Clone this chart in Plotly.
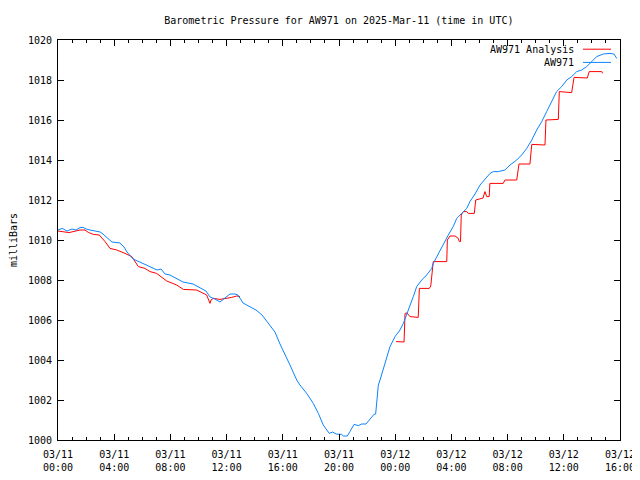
import pandas as pd
import numpy as np
import plotly.graph_objects as go

BASE = pd.Timestamp("2025-03-11 00:00")

# AW971 station data: hours since 2025-03-11 00:00 UTC, pressure (mb)
aw_hours = [0.0, 0.3, 0.64, 1.0, 1.28, 1.57, 1.78, 2.0, 2.28, 2.63, 3.0, 3.2, 3.56, 3.84,
            4.41, 4.7, 4.91, 5.34, 5.98, 6.55, 7.05, 7.33, 7.62, 7.97, 8.47, 8.9, 9.61,
            9.9, 10.25, 10.53, 10.82, 11.17, 11.53, 11.89, 12.24, 12.6, 12.81, 13.17,
            13.67, 14.09, 14.52, 14.8, 15.09, 15.44, 15.8, 16.16, 16.51, 16.99, 17.22,
            17.7, 18.17, 18.53, 18.88, 19.31, 19.55, 19.79, 20.19, 20.31, 20.59, 20.78,
            21.07, 21.37, 21.62, 21.92, 22.26, 22.49, 22.61, 22.68, 22.8, 22.92, 23.13,
            23.4, 23.63, 23.99, 24.34, 24.58, 24.82, 25.05, 25.29, 25.53, 25.89, 26.24,
            26.6, 26.71, 27.07, 27.42, 27.78, 28.13, 28.38, 28.73, 29.09, 29.32, 29.68,
            30.04, 30.51, 30.75, 30.98, 31.34, 31.81, 32.17, 32.65, 33.0, 33.36, 33.72,
            34.07, 34.43, 34.78, 35.14, 35.49, 35.85, 36.21, 36.56, 36.92, 37.27, 37.63,
            37.99, 38.34, 38.81, 39.29, 39.57, 39.77]
aw_mb = [1010.5, 1010.58, 1010.45, 1010.55, 1010.5, 1010.62, 1010.63, 1010.55, 1010.5,
         1010.45, 1010.4, 1010.3, 1010.1, 1009.9, 1009.85, 1009.65, 1009.4, 1009.05,
         1008.85, 1008.65, 1008.5, 1008.55, 1008.3, 1008.25, 1008.05, 1007.9, 1007.8,
         1007.7, 1007.55, 1007.45, 1007.15, 1007.05, 1006.9, 1007.1, 1007.3, 1007.3,
         1007.25, 1006.85, 1006.67, 1006.5, 1006.25, 1006.0, 1005.75, 1005.4, 1004.8,
         1004.3, 1003.75, 1003.0, 1002.75, 1002.33, 1001.83, 1001.33, 1000.75, 1000.33,
         1000.4, 1000.3, 1000.28, 1000.2, 1000.2, 1000.42, 1000.78, 1000.72, 1000.8,
         1000.8, 1001.08, 1001.28, 1001.3, 1002.0, 1002.75, 1003.0, 1003.5, 1004.03,
         1004.67, 1005.17, 1005.5, 1005.83, 1006.25, 1006.67, 1007.17, 1007.67, 1008.0,
         1008.25, 1008.58, 1008.83, 1009.33, 1009.83, 1010.25, 1010.67, 1011.08,
         1011.33, 1011.58, 1011.92, 1012.3, 1012.75, 1013.17, 1013.33, 1013.42, 1013.42,
         1013.5, 1013.75, 1014.0, 1014.25, 1014.58, 1015.0, 1015.5, 1015.92, 1016.42,
         1016.92, 1017.42, 1017.67, 1018.0, 1018.17, 1018.42, 1018.5, 1018.67, 1018.92,
         1019.17, 1019.3, 1019.33, 1019.3, 1019.08]

# AW971 Analysis: hours, pressure (NaN marks the gap)
an_hours = [0.0, 0.78, 1.57, 1.92, 2.16, 2.51, 2.94, 3.35, 3.7, 4.18, 4.77, 5.25, 5.72,
            6.19, 6.55, 7.02, 7.74, 8.45, 8.92, 9.87, 10.58, 10.75, 10.82, 10.89, 11.05,
            11.53, 12.01, 12.36, 12.72, 12.95,
            18.0,
            24.06, 24.63, 24.7, 24.84, 25.05, 25.64, 25.72, 26.43, 26.53, 26.71, 27.67,
            27.71, 27.9, 28.26, 28.49, 28.56, 28.65, 28.7, 28.85, 29.09, 29.2, 29.63,
            29.73, 30.04, 30.25, 30.39, 30.51, 30.69, 30.74, 31.69, 31.81, 32.65, 32.81,
            33.59, 33.72, 34.66, 34.73, 35.61, 35.68, 36.56, 36.73, 37.67, 37.81, 38.7,
            38.77]
an_mb = [1010.45, 1010.37, 1010.5, 1010.5, 1010.38, 1010.28, 1010.25, 1009.92, 1009.58,
         1009.5, 1009.33, 1009.17, 1008.67, 1008.58, 1008.42, 1008.33, 1007.95, 1007.75,
         1007.53, 1007.5, 1007.25, 1007.0, 1006.83, 1007.0, 1007.08, 1007.03, 1007.08,
         1007.13, 1007.2, 1007.17,
         np.nan,
         1004.92, 1004.9, 1006.33, 1006.35, 1006.17, 1006.13, 1007.58, 1007.58, 1007.7,
         1008.92, 1008.92, 1010.0, 1010.2, 1010.2, 1010.08, 1009.92, 1009.92, 1011.25,
         1011.42, 1011.42, 1011.33, 1011.33, 1012.0, 1012.08, 1012.1, 1012.42, 1012.17,
         1012.17, 1012.83, 1012.83, 1013.0, 1013.0, 1013.8, 1013.8, 1014.78, 1014.75,
         1016.0, 1016.03, 1017.42, 1017.37, 1018.13, 1018.1, 1018.42, 1018.42, 1018.33]

tick_hours = [0, 4, 8, 12, 16, 20, 24, 28, 32, 36, 40]
tick_text = ["03/11<br>00:00", "03/11<br>04:00", "03/11<br>08:00", "03/11<br>12:00",
             "03/11<br>16:00", "03/11<br>20:00", "03/12<br>00:00", "03/12<br>04:00",
             "03/12<br>08:00", "03/12<br>12:00", "03/12<br>16:00"]

RED = "#ff0000"
BLUE = "#0a84ff"
FONT = "DejaVu Sans Mono"


def to_time(hours):
    return BASE + pd.to_timedelta(hours, unit="h")


fig = go.Figure()
fig.add_trace(go.Scatter(x=to_time(an_hours), y=an_mb, mode="lines",
                         line=dict(color=RED, width=1), connectgaps=False,
                         name="AW971 Analysis", showlegend=False))
fig.add_trace(go.Scatter(x=to_time(aw_hours), y=aw_mb, mode="lines",
                         line=dict(color=BLUE, width=1),
                         name="AW971", showlegend=False))

# gnuplot-style legend (text left, sample right)
for label, color, yp in [("AW971 Analysis", RED, 0.977), ("AW971", BLUE, 0.944)]:
    fig.add_annotation(x=0.922, y=yp, xref="paper", yref="paper", text=label,
                       showarrow=False, xanchor="right", yanchor="middle",
                       font=dict(family=FONT, size=10, color="black"))
    fig.add_shape(type="line", xref="paper", yref="paper", x0=0.934, x1=0.984,
                  y0=yp, y1=yp, line=dict(color=color, width=1))

fig.update_layout(
    width=640, height=480,
    margin=dict(l=50, r=28, t=32, b=48, autoexpand=False),
    paper_bgcolor="white", plot_bgcolor="white",
    font=dict(family=FONT, size=10, color="black"),
    title=dict(text="Barometric Pressure for AW971 on 2025-Mar-11 (time in UTC)",
               x=0.517, xanchor="center", y=0.975, yanchor="middle",
               font=dict(family=FONT, size=10, color="black")),
    xaxis=dict(range=[to_time(0), to_time(40)], tickvals=list(to_time(tick_hours)),
               ticktext=tick_text, ticks="inside", ticklen=6, tickcolor="black",
               ticklabelstandoff=5,
               showline=True, linecolor="black", linewidth=1, mirror="allticks",
               showgrid=False, zeroline=False,
               minor=dict(dtick=3600000, ticks="inside", ticklen=3,
                          tickcolor="black", showgrid=False)),
    yaxis=dict(range=[1000, 1020], dtick=2, tick0=1000, ticks="inside", ticklen=6,
               tickcolor="black", showline=True, linecolor="black", linewidth=1,
               ticklabelstandoff=3,
               mirror="allticks", showgrid=False, zeroline=False,
               title=dict(text="milliBars", standoff=16,
                          font=dict(family=FONT, size=10))),
)

fig.write_html("out.html")
